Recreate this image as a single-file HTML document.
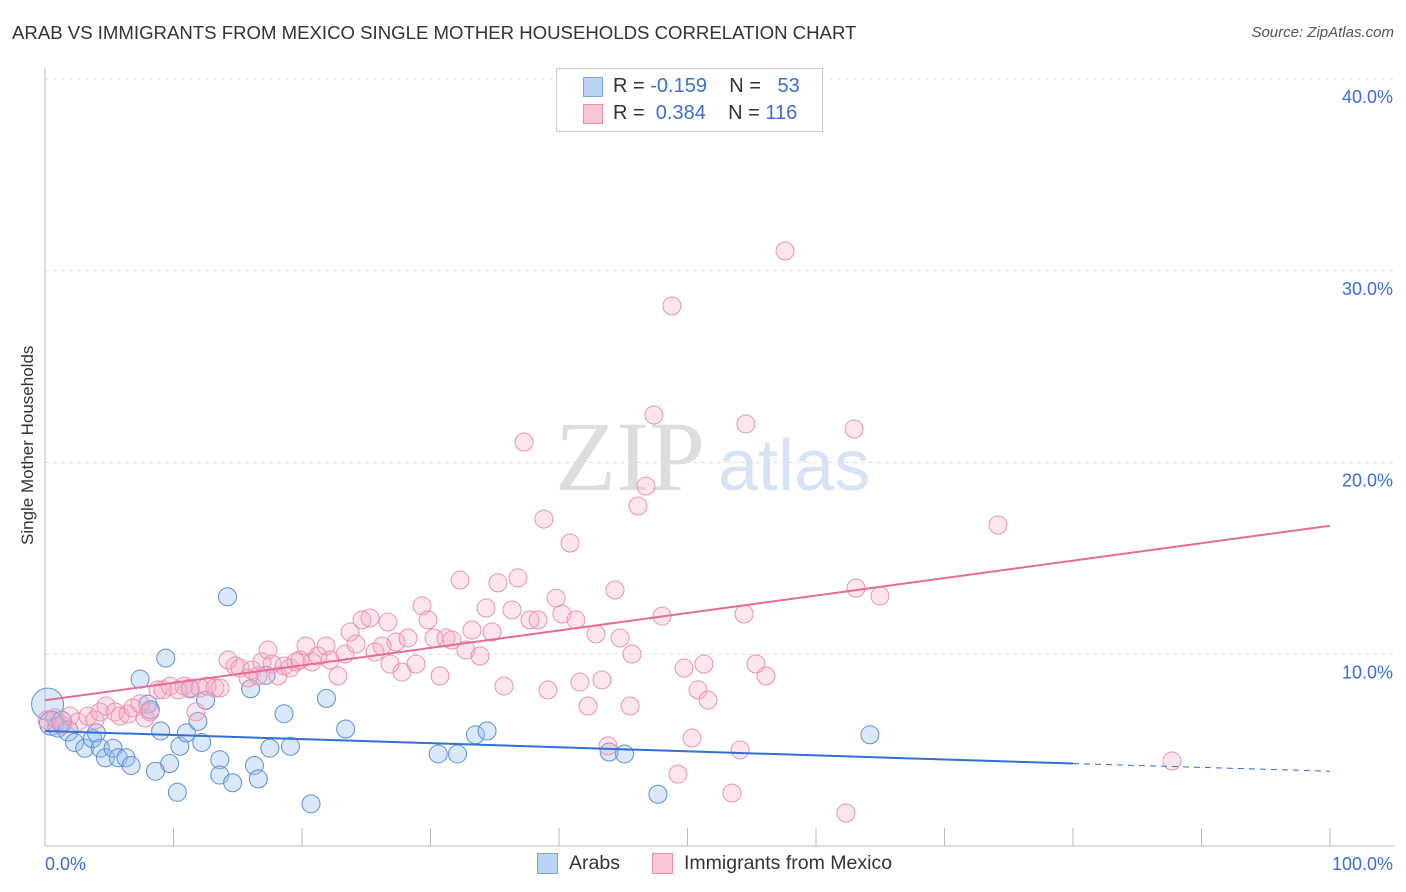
<!DOCTYPE html>
<html><head><meta charset="utf-8"><style>
body{margin:0;background:#fff;font-family:"Liberation Sans",sans-serif;}
#wrap{position:relative;width:1406px;height:892px;overflow:hidden;}
.t{position:absolute;white-space:nowrap;}
</style></head><body>
<div id="wrap">
<div class="t" style="left:12px;top:22px;font-size:18.6px;color:#333;">ARAB VS IMMIGRANTS FROM MEXICO SINGLE MOTHER HOUSEHOLDS CORRELATION CHART</div>
<div class="t" style="right:12px;top:24px;font-size:15px;color:#555;font-style:italic;">Source: ZipAtlas.com</div>
<div class="t" style="left:-62px;top:445px;font-size:17px;color:#333;transform:rotate(-90deg);width:180px;text-align:center;">Single Mother Households</div>
<svg id="svg" width="1406" height="892" style="position:absolute;left:0;top:0"></svg>
<div style="position:absolute;left:556px;top:68px;width:265px;height:62px;border:1px solid #ccc;background:#fff;">
 <div style="position:absolute;left:26px;top:8px;width:18px;height:18px;background:#b9d3f5;border:1px solid #7aa6e0;"></div>
 <div class="t" style="left:56px;top:6px;font-size:20px;color:#333;">R = <span style="color:#3a6fd8">-0.159</span>&nbsp;&nbsp;&nbsp;&nbsp;N = &nbsp;&nbsp;<span style="color:#3a6fd8">53</span></div>
 <div style="position:absolute;left:26px;top:35px;width:18px;height:18px;background:#f8c6d4;border:1px solid #e890aa;"></div>
 <div class="t" style="left:56px;top:33px;font-size:20px;color:#333;">R = &nbsp;<span style="color:#3a6fd8">0.384</span>&nbsp;&nbsp;&nbsp;&nbsp;N = <span style="color:#3a6fd8">116</span></div>
</div>
<div style="position:absolute;left:537px;top:853px;width:19px;height:19px;background:#b9d3f5;border:1px solid #7aa6e0;"></div>
<div class="t" style="left:569px;top:852px;font-size:19.5px;color:#333;">Arabs</div>
<div style="position:absolute;left:652px;top:853px;width:19px;height:19px;background:#f8c6d4;border:1px solid #e890aa;"></div>
<div class="t" style="left:684px;top:852px;font-size:19.5px;color:#333;">Immigrants from Mexico</div>
</div>
<script>
const yTicks=[10,20,30,40];
const xTickLabels=["0.0%","100.0%"];
const arabX=[0.2,0.5,1.0,1.3,1.8,2.3,3.1,3.7,4.0,4.3,4.7,5.3,5.7,6.3,6.7,7.4,8.0,8.2,8.6,9.0,9.4,9.7,10.3,10.5,11.0,11.3,11.9,12.2,12.5,13.6,13.6,14.2,14.6,16.0,16.3,16.6,17.2,17.5,18.6,19.1,20.7,21.9,23.4,30.6,32.1,33.5,34.4,43.9,45.1,47.7,64.2];
const arabY=[7.4,6.4,6.2,6.5,6.0,5.4,5.1,5.6,5.9,5.1,4.6,5.1,4.6,4.6,4.2,8.7,7.4,7.1,3.9,6.0,9.8,4.3,2.8,5.2,5.9,8.2,6.5,5.4,7.6,4.5,3.7,13.0,3.3,8.2,4.2,3.5,8.9,5.1,6.9,5.2,2.2,7.7,6.1,4.8,4.8,5.8,6.0,4.9,4.8,2.7,5.8];
const arabR=[16,12,10,10,10,9,9,9,9,9,9,9,9,9,9,9,9,9,9,9,9,9,9,9,9,9,9,9,9,9,9,9,9,9,9,9,9,9,9,9,9,9,9,9,9,9,9,9,9,9,9];
const mexX=[0.16,0.78,1.32,1.95,2.57,3.35,3.89,4.28,4.75,5.45,5.84,6.46,6.85,7.39,7.78,8.17,8.79,9.18,9.73,10.35,10.82,11.28,11.75,12.06,12.61,13.23,13.62,14.24,14.79,15.18,15.80,16.11,16.58,16.89,17.35,17.67,18.13,18.60,19.07,19.53,19.84,20.31,20.78,21.25,21.87,22.18,22.80,23.35,23.74,24.20,24.67,25.29,25.68,26.23,26.69,26.85,27.32,27.78,28.25,28.87,29.34,29.81,30.27,30.74,31.21,31.67,32.30,32.76,33.23,33.85,34.32,34.79,35.25,35.72,36.34,36.81,37.28,37.74,38.37,38.83,39.14,39.77,40.23,40.86,41.32,41.63,42.26,42.88,43.35,43.81,44.36,44.75,45.53,45.68,46.15,46.77,47.39,48.02,48.79,49.26,49.73,50.35,50.82,51.28,51.60,53.46,54.09,54.40,54.55,55.33,56.11,57.59,62.33,62.96,63.11,64.98,74.16,87.70];
const mexY=[6.57,6.68,6.31,6.78,6.47,6.78,6.57,6.99,7.30,6.99,6.78,6.88,7.20,7.41,6.68,6.99,8.14,8.14,8.34,8.14,8.34,8.24,6.99,8.24,8.34,8.24,8.24,9.70,9.39,9.28,8.76,9.18,8.87,9.60,10.22,9.49,8.87,9.39,9.28,9.60,9.70,10.43,9.60,9.91,10.43,9.70,8.87,10.01,11.16,10.53,11.79,11.89,10.12,10.43,11.68,9.49,10.64,9.07,10.85,9.49,12.52,11.79,10.85,8.87,10.85,10.74,13.87,10.22,11.26,9.91,12.41,11.16,13.72,8.34,12.31,13.98,21.07,11.79,11.79,17.05,8.14,12.93,12.10,15.80,11.79,8.55,7.30,11.06,8.66,5.22,13.35,10.85,7.30,10.01,17.73,18.77,22.48,11.99,28.16,3.75,9.28,5.63,8.14,9.49,7.61,2.76,5.01,12.10,22.01,9.49,8.87,31.03,1.72,21.75,13.45,13.04,16.74,4.43];
const lines=[[-0.159,0,6.0,80,4.3,"#2f6fd6",false],[0,80,4.3,100,3.9,"#2f6fd6",true],[0.384,0,7.6,100,16.7,"#e8699a",false]];
const X0=45,X1=1330,Ypx0=846,Ypx40=79;
const sx=v=>X0+(X1-X0)*v/100, sy=v=>Ypx0-(Ypx0-Ypx40)*v/40;
const svg=document.getElementById('svg');const NS='http://www.w3.org/2000/svg';
function mk(t,a){const e=document.createElementNS(NS,t);for(const k in a)e.setAttribute(k,a[k]);svg.appendChild(e);return e;}
for(const v of yTicks){const g=mk('line',{x1:X0,x2:1394,y1:sy(v),y2:sy(v),stroke:'#ddd','stroke-dasharray':'4,4'});


const tx=mk('text',{x:1393,y:sy(v)+24,'text-anchor':'end','font-size':18,fill:'#3a6fd8','font-family':'Liberation Sans'});tx.textContent=v.toFixed(1)+'%';

}
mk('line',{x1:X0,x2:X0,y1:68,y2:846,stroke:'#bbb'});
mk('line',{x1:X0,x2:1394,y1:846,y2:846,stroke:'#bbb'});
for(let i=0;i<=10;i++){const x=sx(i*10);mk('line',{x1:x,x2:x,y1:828,y2:846,stroke:'#bbb'});}
xTickLabels.forEach((l,i)=>{const t=mk('text',{x:i?1393:45,y:870,'text-anchor':i?'end':'start','font-size':18,fill:'#3a6fd8','font-family':'Liberation Sans'});t.textContent=l;

});
const w1=mk('text',{x:555,y:490,'font-size':100,fill:'#ddd','font-family':'Liberation Serif'});w1.textContent='ZIP';


const w2=mk('text',{x:718,y:490,'font-size':72,fill:'#d6e3f6','font-family':'Liberation Sans'});w2.textContent='atlas';
arabX.forEach((x,i)=>{const c=mk('circle',{cx:sx(x),cy:sy(arabY[i]),r:arabR[i],fill:'rgba(150,190,240,0.35)',stroke:'#5a8fdc','stroke-width':1});

});
mexX.forEach((x,i)=>{const c=mk('circle',{cx:sx(x),cy:sy(mexY[i]),r:9,fill:'rgba(245,170,195,0.3)',stroke:'#eb92b0','stroke-width':1});

});
lines.forEach(l=>{const e=mk('line',{x1:sx(l[1]),y1:sy(l[2]),x2:sx(l[3]),y2:sy(l[4]),stroke:l[5],'stroke-width':2});if(l[6]){e.setAttribute('stroke-dasharray','6,5');e.setAttribute('stroke-width','1');}

});
</script>
</body></html>
